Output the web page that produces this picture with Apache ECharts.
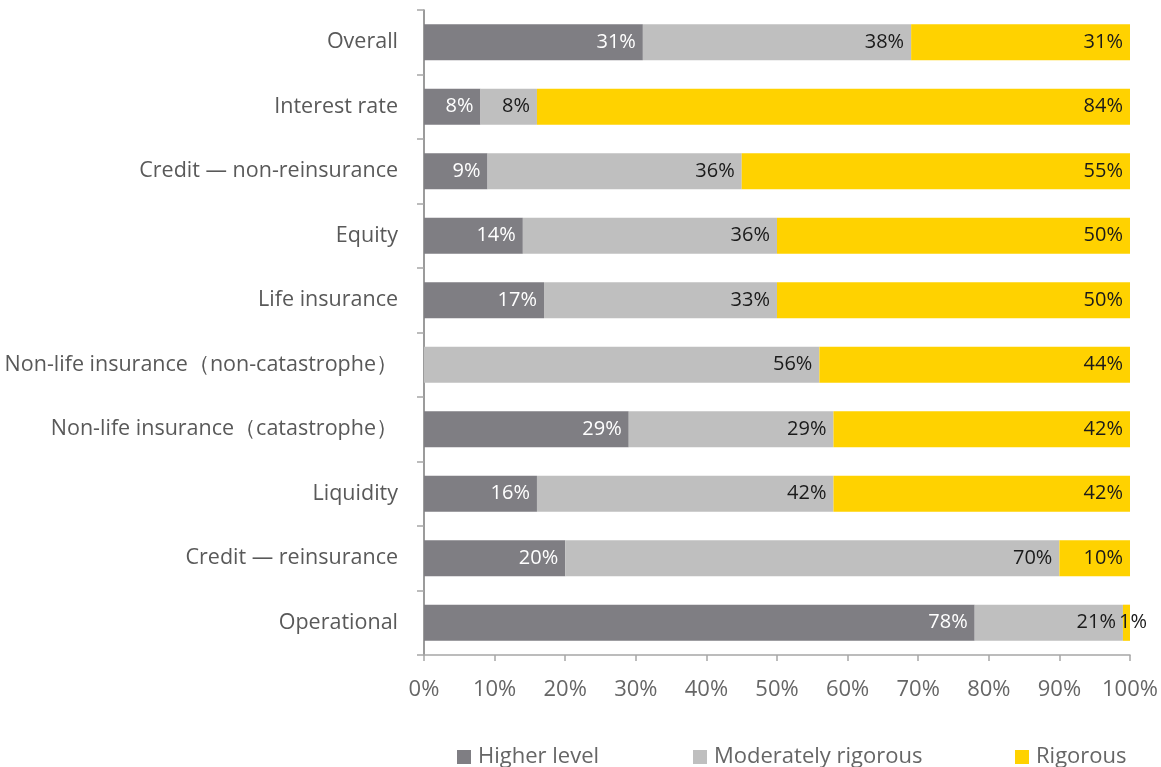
<!DOCTYPE html>
<html>
<head>
<meta charset="utf-8">
<script src="https://cdn.jsdelivr.net/npm/echarts@6/dist/echarts.min.js"></script>
<style>
  html, body { margin: 0; padding: 0; background: #fff; }
  #chart { width: 1161px; height: 767px; }
</style>
</head>
<body>
<div id="chart"></div>
<script>
// Risk categories, listed top to bottom
const categories = [
  'Overall',
  'Interest rate',
  'Credit \u2014 non-reinsurance',
  'Equity',
  'Life insurance',
  'Non-life insurance\uff08non-catastrophe\uff09',
  'Non-life insurance\uff08catastrophe\uff09',
  'Liquidity',
  'Credit \u2014 reinsurance',
  'Operational'
];

// Share of respondents (%) per rigour level
const higherLevel        = [31, 8, 9, 14, 17, 0, 29, 16, 20, 78];
const moderatelyRigorous = [38, 8, 36, 36, 33, 56, 29, 42, 70, 21];
const rigorous           = [31, 84, 55, 50, 50, 44, 42, 42, 10, 1];

const seriesNames = ['Higher level', 'Moderately rigorous', 'Rigorous'];
const xTicks = [0, 10, 20, 30, 40, 50, 60, 70, 80, 90, 100];

const FONT = 'Open Sans';
const colors = ['#7f7e83', '#bfbfbf', '#ffd200'];
const labelColors = ['#ffffff', '#1a1a1a', '#1a1a1a'];

function makeSeries(name, values, idx) {
  return {
    name: name,
    type: 'bar',
    stack: 'total',
    barWidth: '56%',
    itemStyle: { color: colors[idx] },
    data: values.map(function (v, i) {
      const item = { value: v };
      if (v === 0) item.label = { show: false };
      // a very thin segment carries its label starting at its left edge
      if (idx === 2 && v < 3) item.label = { position: 'insideLeft', distance: 0, offset: [-4, 0] };
      return item;
    }),
    label: {
      show: true,
      position: 'insideRight',
      distance: 7,
      color: labelColors[idx],
      fontFamily: FONT,
      fontSize: 20,
      formatter: '{c}%'
    }
  };
}

const chart = echarts.init(document.getElementById('chart'), null, { renderer: 'canvas' });

const legendBase = {
  top: 741,
  itemWidth: 14,
  itemHeight: 14,
  itemGap: 0,
  icon: 'rect',
  textStyle: { fontFamily: FONT, fontSize: 22, color: '#666666', padding: [0, 0, 0, 2] }
};

chart.setOption({
  animation: false,
  backgroundColor: '#ffffff',
  grid: {
    left: 424, right: 31, top: 10, bottom: 112,
    containLabel: false,
    outerBoundsMode: 'none'
  },
  legend: [
    Object.assign({}, legendBase, { left: 452, data: [seriesNames[0]] }),
    Object.assign({}, legendBase, { left: 688, data: [seriesNames[1]] }),
    Object.assign({}, legendBase, { left: 1010, data: [seriesNames[2]] })
  ],
  xAxis: {
    type: 'value',
    min: xTicks[0],
    max: xTicks[xTicks.length - 1],
    interval: 10,
    splitLine: { show: false },
    axisLine: { show: true, lineStyle: { color: '#a6a6a6', width: 1.5 } },
    axisTick: { show: true, length: 6, lineStyle: { color: '#a6a6a6', width: 1.5 } },
    axisLabel: {
      fontFamily: FONT, fontSize: 22, color: '#666666', margin: 24,
      formatter: '{value}%'
    }
  },
  yAxis: {
    type: 'category',
    inverse: true,
    data: categories,
    axisLine: { show: true, lineStyle: { color: '#7a7a7a', width: 1.5 } },
    axisTick: { show: true, length: 7, lineStyle: { color: '#a6a6a6', width: 1.5 } },
    axisLabel: { fontFamily: FONT, fontSize: 21.5, color: '#595959', margin: 26 }
  },
  series: [
    makeSeries(seriesNames[0], higherLevel, 0),
    makeSeries(seriesNames[1], moderatelyRigorous, 1),
    makeSeries(seriesNames[2], rigorous, 2)
  ]
});
</script>
</body>
</html>
